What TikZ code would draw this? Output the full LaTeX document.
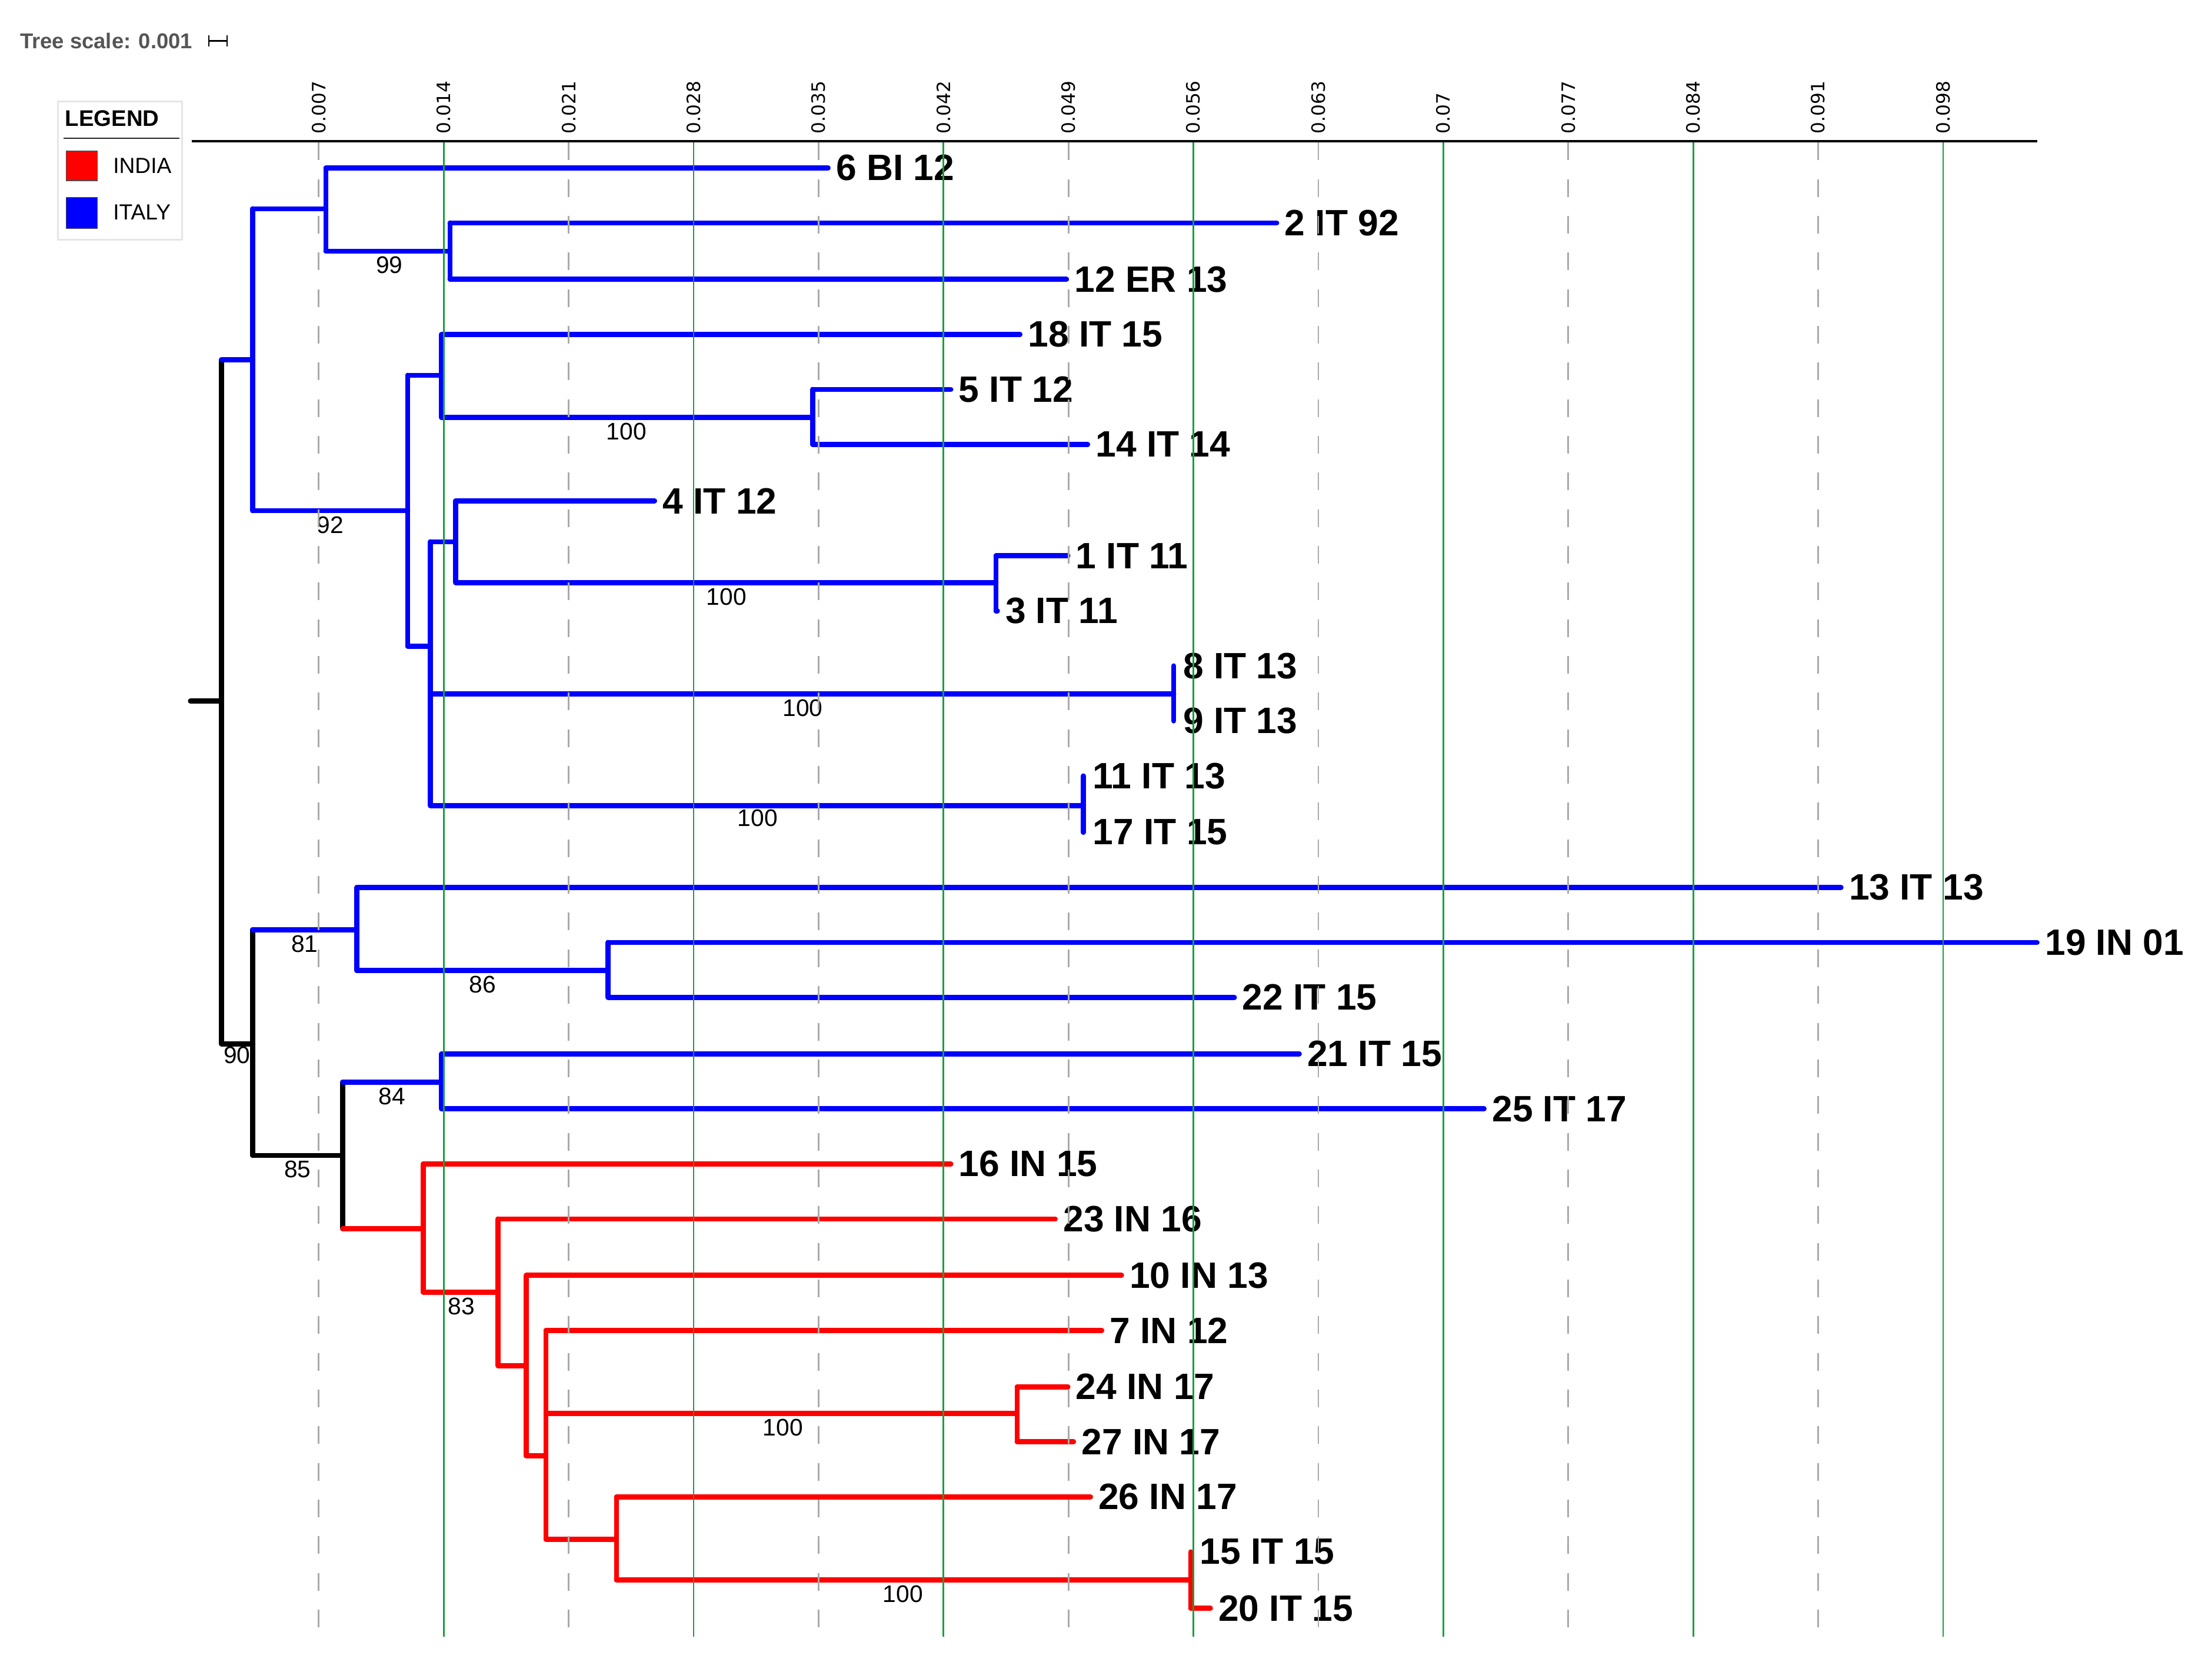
\documentclass[tikz,border=0pt]{standalone}
\usepackage{fontspec}
\setmainfont{Liberation Sans}
\newfontfamily\axisfont{DejaVu Sans}
\definecolor{itblue}{RGB}{0,0,255}
\definecolor{inred}{RGB}{255,0,0}
\definecolor{gridgreen}{RGB}{25,160,60}
\definecolor{gridgray}{RGB}{170,170,170}
\definecolor{scalegray}{RGB}{85,85,85}

\tikzset{
  branch/.style={line width=3.6pt, line cap=round, line join=round},
  leaf/.style={anchor=west, inner sep=5.5pt, font=\fontsize{26}{26}\selectfont\bfseries},
  boot/.style={inner sep=0pt, font=\fontsize{17}{17}\selectfont},
  ticklab/.style={anchor=west, inner sep=0pt, rotate=90, font=\axisfont\fontsize{13}{13}\selectfont},
  legtext/.style={anchor=west, inner sep=0pt, font=\fontsize{15.5}{15.5}\selectfont},
}

\begin{document}
\begin{tikzpicture}[x=1pt, y=-1pt]
			\useasboundingbox (0,0) rectangle (1568,1185);

			% tree scale and legend
			\node[anchor=west, inner sep=0pt, text=scalegray, font=\fontsize{15.2}{15.2}\selectfont\bfseries] (tscale) at (14,29) {Tree scale: 0.001};
			\coordinate (sb0) at (148,29);
			\coordinate (sb1) at (161,29);
			\draw[line width=1pt] (sb0) -- (sb1) (148,25) -- (148,33) (161,25) -- (161,33);

			\draw[draw=black!10, fill=white, line width=1pt] (41,72) rectangle (129,170);
			\node[anchor=west, inner sep=0pt, font=\fontsize{16}{16}\selectfont\bfseries] (legtitle) at (46,84) {LEGEND};
			\draw[line width=1.2pt, black!85] (45,98) -- (127,98);
			\draw[fill=inred, draw=black!70, line width=0.6pt] (47,107) rectangle (69,128);
			\draw[fill=itblue, draw=black!70, line width=0.6pt] (47,140) rectangle (69,162);
			\node[legtext] (lindia) at (80,117.5) {INDIA};
			\node[legtext] (litaly) at (80,150.5) {ITALY};

			% axis
			\coordinate (ax0) at (136,100);
			\coordinate (ax1) at (1444,100);
			\draw[line width=1.8pt] (ax0) -- (ax1);
			\foreach \k/\lab in {1/0.007,2/0.014,3/0.021,4/0.028,5/0.035,6/0.042,7/0.049,8/0.056,9/0.063,10/0.07,11/0.077,12/0.084,13/0.091,14/0.098}{
				\pgfmathsetmacro\gx{137.4+88.57*\k}
				\node[ticklab] (tk\k) at (\gx,95) {\lab};
			}

			% internal nodes
			\coordinate (r)  at (157,497);
			\coordinate (a)  at (179,255);
			\coordinate (b)  at (231,148);
			\coordinate (c)  at (319,178);
			\coordinate (d)  at (289,362);
			\coordinate (e)  at (313,266);
			\coordinate (f)  at (576,296);
			\coordinate (g)  at (305,458);
			\coordinate (h)  at (323,384);
			\coordinate (k)  at (706,413);
			\coordinate (i)  at (832,492);
			\coordinate (j)  at (768,571);
			\coordinate (m)  at (179,740);
			\coordinate (n)  at (253,659);
			\coordinate (o)  at (431,688);
			\coordinate (p)  at (243,819);
			\coordinate (q)  at (313,767);
			\coordinate (s)  at (300,871);
			\coordinate (u)  at (353,916);
			\coordinate (v)  at (373,968);
			\coordinate (w)  at (387,1032);
			\coordinate (z)  at (721,1002);
			\coordinate (y)  at (437,1091);
			\coordinate (x)  at (844,1120);
			\coordinate (rt) at (135,497);

			% leaves
			\node[leaf] (s6)  at (587,119)  {6 BI 12};
			\node[leaf] (s2)  at (905,158)  {2 IT 92};
			\node[leaf] (s12) at (756,198)  {12 ER 13};
			\node[leaf] (s18) at (723,237)  {18 IT 15};
			\node[leaf] (s5)  at (674,276)  {5 IT 12};
			\node[leaf] (s14) at (771,315)  {14 IT 14};
			\node[leaf] (s4)  at (464,355)  {4 IT 12};
			\node[leaf] (s1)  at (757,394)  {1 IT 11};
			\node[leaf] (s3)  at (707,433)  {3 IT 11};
			\node[leaf] (s8)  at (833,472)  {8 IT 13};
			\node[leaf] (s9)  at (833,511)  {9 IT 13};
			\node[leaf] (s11) at (769,550)  {11 IT 13};
			\node[leaf] (s17) at (769,590)  {17 IT 15};
			\node[leaf] (s13) at (1305,629) {13 IT 13};
			\node[leaf] (s19) at (1444,668) {19 IN 01};
			\node[leaf] (s22) at (875,707)  {22 IT 15};
			\node[leaf] (s21) at (921,747)  {21 IT 15};
			\node[leaf] (s25) at (1052,786) {25 IT 17};
			\node[leaf] (s16) at (674,825)  {16 IN 15};
			\node[leaf] (s23) at (748,864)  {23 IN 16};
			\node[leaf] (s10) at (795,904)  {10 IN 13};
			\node[leaf] (s7)  at (781,943)  {7 IN 12};
			\node[leaf] (s24) at (757,983)  {24 IN 17};
			\node[leaf] (s27) at (761,1022) {27 IN 17};
			\node[leaf] (s26) at (773,1061) {26 IN 17};
			\node[leaf] (s15) at (845,1100) {15 IT 15};
			\node[leaf] (s20) at (858,1140) {20 IT 15};

			% black backbone
			\draw[branch, black]
			(rt) -- (r)
			(r |- a) -- (r |- m)
			(r |- m) -- (m)
			(m |- n) -- (m |- p)
			(m |- p) -- (p)
			(p |- q) -- (p |- s)
			;

			% italy clades
			\draw[branch, itblue]
			(r |- a) -- (a)
			(a |- b) -- (a |- d)
			(a |- b) -- (b)
			(b |- s6) -- (b |- c)
			(b |- s6) -- (s6.west)
			(b |- c) -- (c)
			(c |- s2) -- (c |- s12)
			(c |- s2) -- (s2.west)
			(c |- s12) -- (s12.west)
			(a |- d) -- (d)
			(d |- e) -- (d |- g)
			(d |- e) -- (e)
			(e |- s18) -- (e |- f)
			(e |- s18) -- (s18.west)
			(e |- f) -- (f)
			(f |- s5) -- (f |- s14)
			(f |- s5) -- (s5.west)
			(f |- s14) -- (s14.west)
			(d |- g) -- (g)
			(g |- h) -- (g |- j)
			(g |- h) -- (h)
			(h |- s4) -- (h |- k)
			(h |- s4) -- (s4.west)
			(h |- k) -- (k)
			(k |- s1) -- (k |- s3)
			(k |- s1) -- (s1.west)
			(k |- s3) -- (s3.west)
			(g |- i) -- (i)
			(i |- s8) -- (i |- s9)
			(g |- j) -- (j)
			(j |- s11) -- (j |- s17)
			(m |- n) -- (n)
			(n |- s13) -- (n |- o)
			(n |- s13) -- (s13.west)
			(n |- o) -- (o)
			(o |- s19) -- (o |- s22)
			(o |- s19) -- (s19.west)
			(o |- s22) -- (s22.west)
			(p |- q) -- (q)
			(q |- s21) -- (q |- s25)
			(q |- s21) -- (s21.west)
			(q |- s25) -- (s25.west)
			;

			% india clade
			\draw[branch, inred]
			(p |- s) -- (s)
			(s |- s16) -- (s |- u)
			(s |- s16) -- (s16.west)
			(s |- u) -- (u)
			(u |- s23) -- (u |- v)
			(u |- s23) -- (s23.west)
			(u |- v) -- (v)
			(v |- s10) -- (v |- w)
			(v |- s10) -- (s10.west)
			(v |- w) -- (w)
			(w |- s7) -- (w |- y)
			(w |- s7) -- (s7.west)
			(w |- z) -- (z)
			(z |- s24) -- (z |- s27)
			(z |- s24) -- (s24.west)
			(z |- s27) -- (s27.west)
			(w |- y) -- (y)
			(y |- s26) -- (y |- x)
			(y |- s26) -- (s26.west)
			(y |- x) -- (x)
			(x |- s15) -- (x |- s20)
			(x |- s20) -- (s20.west)
			;

			% bootstrap values
			\node[boot] (b99)  at (276,188)  {99};
			\node[boot] (b92)  at (234,372)  {92};
			\node[boot] (b100a) at (444,306) {100};
			\node[boot] (b100b) at (515,423) {100};
			\node[boot] (b100c) at (569,502) {100};
			\node[boot] (b100d) at (537,580) {100};
			\node[boot] (b81)  at (216,669)  {81};
			\node[boot] (b86)  at (342,698)  {86};
			\node[boot] (b90)  at (168,748)  {90};
			\node[boot] (b84)  at (278,777)  {84};
			\node[boot] (b85)  at (211,829)  {85};
			\node[boot] (b83)  at (327,926)  {83};
			\node[boot] (b100e) at (555,1012) {100};
			\node[boot] (b100f) at (640,1130) {100};

			% grid lines over the tree
			\foreach \k in {1,3,...,13}{
				\pgfmathsetmacro\gx{137.4+88.57*\k}
				\draw[gridgray, line width=1.2pt, dash pattern=on 12.5pt off 13.5pt] (\gx,101) -- (\gx,1160);
			}
			\foreach \k in {2,4,...,14}{
				\pgfmathsetmacro\gx{137.4+88.57*\k}
				\draw[gridgreen, line width=1.2pt] (\gx,101) -- (\gx,1160);
			}
		\end{tikzpicture}
\end{document}
